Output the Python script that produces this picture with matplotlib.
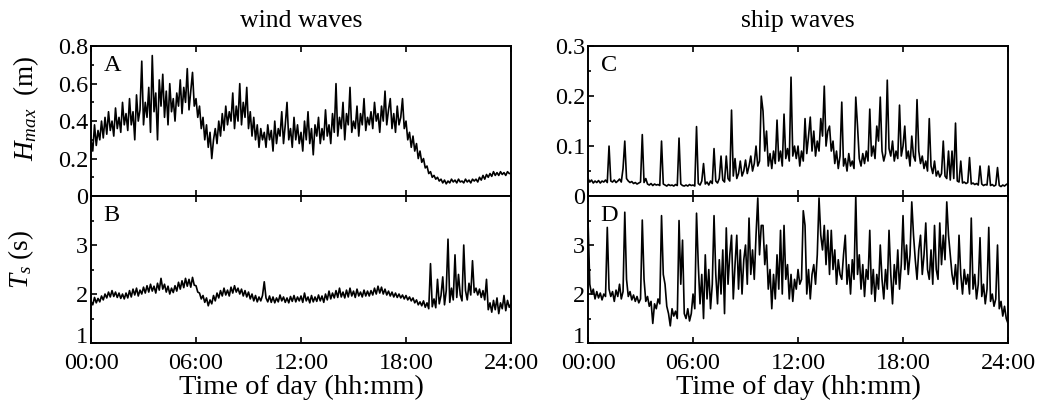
import numpy as np
import matplotlib
matplotlib.use("Agg")
import matplotlib.pyplot as plt
import matplotlib.transforms as mtransforms
from matplotlib.ticker import MultipleLocator, FixedLocator

plt.rcParams["font.family"] = ["Liberation Serif", "DejaVu Serif"]
plt.rcParams["mathtext.fontset"] = "custom"
plt.rcParams["mathtext.rm"] = "Liberation Serif"
plt.rcParams["mathtext.it"] = "Liberation Serif:italic"

# sampling step of the series (hours)
DT = 0.1

# wind waves, Hmax (m)
wind_hmax = [
    0.30, 0.24, 0.38, 0.27, 0.35, 0.30, 0.40, 0.31, 0.42, 0.33, 0.45, 0.35, 0.40, 0.32, 0.47, 0.36, 0.42, 0.34, 0.50, 0.38,
    0.44, 0.35, 0.52, 0.38, 0.45, 0.30, 0.54, 0.40, 0.46, 0.72, 0.38, 0.50, 0.42, 0.58, 0.34, 0.75, 0.45, 0.55, 0.30, 0.62,
    0.48, 0.65, 0.42, 0.56, 0.38, 0.60, 0.45, 0.52, 0.40, 0.55, 0.48, 0.62, 0.44, 0.58, 0.50, 0.68, 0.46, 0.56, 0.66, 0.48,
    0.52, 0.42, 0.48, 0.36, 0.42, 0.30, 0.38, 0.26, 0.34, 0.20, 0.30, 0.36, 0.28, 0.40, 0.32, 0.44, 0.35, 0.48, 0.38, 0.45,
    0.40, 0.55, 0.36, 0.48, 0.40, 0.60, 0.38, 0.50, 0.42, 0.58, 0.36, 0.45, 0.32, 0.42, 0.30, 0.38, 0.26, 0.36, 0.30, 0.34,
    0.26, 0.38, 0.30, 0.35, 0.24, 0.40, 0.28, 0.36, 0.32, 0.45, 0.28, 0.38, 0.50, 0.30, 0.36, 0.26, 0.42, 0.30, 0.38, 0.28,
    0.34, 0.24, 0.40, 0.30, 0.45, 0.28, 0.36, 0.22, 0.38, 0.32, 0.42, 0.28, 0.36, 0.30, 0.46, 0.32, 0.38, 0.28, 0.44, 0.34,
    0.60, 0.32, 0.42, 0.36, 0.50, 0.30, 0.44, 0.38, 0.58, 0.34, 0.40, 0.36, 0.48, 0.32, 0.44, 0.38, 0.52, 0.35, 0.42, 0.38,
    0.45, 0.36, 0.50, 0.40, 0.44, 0.34, 0.48, 0.40, 0.56, 0.38, 0.46, 0.52, 0.36, 0.44, 0.34, 0.48, 0.38, 0.42, 0.52, 0.36,
    0.40, 0.30, 0.34, 0.26, 0.32, 0.24, 0.28, 0.20, 0.24, 0.18, 0.20, 0.15, 0.16, 0.12, 0.13, 0.10, 0.11, 0.09, 0.10, 0.08,
    0.09, 0.07, 0.085, 0.065, 0.08, 0.07, 0.09, 0.075, 0.085, 0.07, 0.09, 0.075, 0.08, 0.07, 0.09, 0.075, 0.085, 0.07, 0.09, 0.08,
    0.09, 0.075, 0.10, 0.085, 0.11, 0.09, 0.115, 0.10, 0.12, 0.105, 0.13, 0.11, 0.125, 0.11, 0.13, 0.115, 0.125, 0.11, 0.13, 0.12,
    0.12,
]

# wind waves, Ts (s)
wind_ts = [
    1.85, 1.78, 1.93, 1.82, 1.91, 1.84, 1.96, 1.88, 2.00, 1.92, 2.04, 1.94, 2.07, 1.95, 2.04, 1.93, 2.02, 1.91, 2.00, 1.90,
    2.02, 1.92, 2.07, 1.94, 2.10, 1.98, 2.12, 1.96, 2.08, 2.00, 2.14, 2.02, 2.17, 2.04, 2.20, 2.06, 2.16, 2.02, 2.22, 2.08,
    2.32, 2.10, 2.20, 2.04, 2.16, 2.00, 2.12, 2.03, 2.17, 2.06, 2.24, 2.10, 2.27, 2.13, 2.32, 2.16, 2.30, 2.14, 2.34, 2.18,
    2.17, 2.04, 2.02, 1.90, 1.97, 1.83, 1.92, 1.76, 1.88, 1.80, 1.97, 1.86, 2.02, 1.92, 2.07, 1.96, 2.12, 1.98, 2.08, 1.96,
    2.14, 2.02, 2.17, 2.04, 2.12, 2.00, 2.10, 1.96, 2.07, 1.94, 2.04, 1.90, 2.00, 1.86, 1.97, 1.84, 1.94, 1.86, 1.97, 2.25,
    1.92, 1.84, 1.96, 1.83, 1.94, 1.82, 1.92, 1.84, 1.98, 1.86, 1.94, 1.83, 1.92, 1.82, 1.95, 1.85, 1.97, 1.84, 1.94, 1.86,
    1.96, 1.83, 2.02, 1.86, 1.94, 1.82, 1.97, 1.84, 1.94, 1.85, 1.98, 1.86, 1.96, 1.83, 2.00, 1.88, 2.06, 1.90, 2.02, 1.92,
    2.07, 1.93, 2.12, 1.94, 2.04, 1.92, 2.08, 1.94, 2.12, 1.96, 2.06, 1.93, 2.10, 1.96, 2.04, 1.94, 2.08, 1.96, 2.06, 1.96,
    2.07, 1.98, 2.12, 2.00, 2.16, 2.02, 2.14, 2.00, 2.10, 1.98, 2.06, 1.96, 2.04, 1.94, 2.02, 1.93, 2.00, 1.92, 1.98, 1.90,
    1.97, 1.88, 1.94, 1.86, 1.92, 1.82, 1.88, 1.78, 1.84, 1.76, 1.86, 1.73, 1.82, 1.70, 2.62, 1.74, 1.90, 1.72, 2.30, 1.80,
    1.97, 2.35, 1.78, 2.07, 3.12, 1.83, 2.12, 1.88, 2.80, 1.93, 2.40, 1.98, 1.86, 3.00, 2.07, 1.88, 2.22, 1.98, 2.68, 2.03,
    2.12, 1.98, 2.10, 1.93, 2.07, 1.88, 2.30, 1.68, 1.82, 1.63, 1.87, 1.68, 1.92, 1.60, 1.82, 1.70, 1.97, 1.66, 1.87, 1.73,
    1.80,
]

# ship waves, Hmax (m)
ship_hmax = [
    0.035, 0.028, 0.032, 0.026, 0.030, 0.027, 0.031, 0.026, 0.030, 0.028, 0.032, 0.027, 0.100, 0.030, 0.028, 0.032, 0.027, 0.030, 0.034, 0.028,
    0.055, 0.110, 0.035, 0.030, 0.027, 0.029, 0.025, 0.027, 0.024, 0.026, 0.028, 0.123, 0.027, 0.035, 0.024, 0.022, 0.025, 0.021, 0.024, 0.022,
    0.023, 0.021, 0.110, 0.024, 0.022, 0.020, 0.023, 0.021, 0.022, 0.020, 0.023, 0.021, 0.116, 0.024, 0.021, 0.020, 0.022, 0.020, 0.023, 0.021,
    0.022, 0.020, 0.139, 0.025, 0.022, 0.030, 0.065, 0.024, 0.028, 0.022, 0.030, 0.025, 0.095, 0.030, 0.026, 0.035, 0.080, 0.032, 0.028, 0.080,
    0.035, 0.030, 0.172, 0.040, 0.075, 0.035, 0.045, 0.070, 0.040, 0.050, 0.072, 0.045, 0.060, 0.080, 0.050, 0.065, 0.100, 0.060, 0.070, 0.200,
    0.170, 0.090, 0.130, 0.060, 0.085, 0.055, 0.090, 0.065, 0.152, 0.070, 0.090, 0.060, 0.164, 0.075, 0.095, 0.070, 0.238, 0.080, 0.100, 0.075,
    0.100, 0.060, 0.090, 0.070, 0.155, 0.085, 0.120, 0.158, 0.090, 0.130, 0.080, 0.110, 0.090, 0.155, 0.120, 0.220, 0.100, 0.130, 0.140, 0.090,
    0.110, 0.065, 0.090, 0.055, 0.080, 0.188, 0.060, 0.075, 0.050, 0.085, 0.060, 0.070, 0.055, 0.198, 0.140, 0.075, 0.060, 0.085, 0.065, 0.090,
    0.070, 0.174, 0.080, 0.100, 0.075, 0.140, 0.110, 0.198, 0.090, 0.070, 0.085, 0.232, 0.095, 0.080, 0.110, 0.070, 0.090, 0.075, 0.182, 0.080,
    0.100, 0.140, 0.075, 0.090, 0.060, 0.120, 0.080, 0.070, 0.193, 0.090, 0.065, 0.080, 0.055, 0.070, 0.050, 0.155, 0.060, 0.045, 0.070, 0.040,
    0.050, 0.038, 0.045, 0.110, 0.040, 0.035, 0.090, 0.032, 0.090, 0.035, 0.146, 0.030, 0.028, 0.070, 0.026, 0.028, 0.025, 0.027, 0.077, 0.024,
    0.026, 0.023, 0.025, 0.022, 0.060, 0.024, 0.021, 0.023, 0.022, 0.060, 0.021, 0.023, 0.020, 0.022, 0.057, 0.021, 0.019, 0.022, 0.020, 0.023,
    0.025,
]

# ship waves, Ts (s)
ship_ts = [
    3.48, 2.20, 2.00, 2.10, 1.90, 2.05, 1.92, 2.02, 1.88, 2.00, 1.95, 3.36, 2.10, 1.95, 2.05, 1.85, 2.08, 1.95, 2.20, 1.90,
    2.05, 3.67, 2.30, 1.95, 2.05, 1.88, 1.98, 1.85, 1.95, 1.82, 1.90, 3.51, 2.30, 1.85, 1.95, 1.75, 1.85, 1.40, 1.80, 1.70,
    1.90, 1.80, 3.60, 2.40, 2.20, 1.75, 1.60, 1.35, 1.70, 1.55, 1.65, 1.50, 3.50, 2.20, 3.10, 1.60, 1.50, 1.70, 1.45, 1.60,
    2.00, 1.70, 3.65, 2.60, 1.80, 2.40, 1.50, 2.80, 1.90, 2.50, 1.70, 2.20, 3.60, 2.40, 1.80, 2.70, 2.00, 2.90, 1.60, 3.35,
    2.20, 2.80, 3.20, 1.90, 2.60, 3.20, 2.10, 2.90, 2.00, 2.70, 3.00, 2.20, 3.55, 2.40, 2.90, 2.30, 3.20, 3.96, 2.80, 3.40,
    3.40, 2.60, 3.00, 2.10, 2.50, 1.70, 2.40, 1.90, 2.80, 2.10, 3.30, 2.00, 3.40, 2.30, 2.60, 1.90, 2.40, 1.85, 2.30, 2.10,
    2.50, 2.20, 2.30, 3.70, 3.40, 2.00, 2.50, 1.90, 2.40, 2.60, 2.20, 2.80, 3.96, 3.20, 2.90, 3.40, 2.60, 3.30, 2.40, 3.30,
    2.50, 2.90, 2.20, 2.70, 2.40, 2.30, 2.80, 3.20, 2.20, 2.60, 2.00, 2.70, 2.30, 4.00, 2.40, 2.80, 2.10, 2.60, 1.95, 2.50,
    2.30, 3.30, 2.00, 2.50, 1.85, 2.40, 2.10, 3.00, 2.30, 1.90, 2.50, 2.10, 3.30, 2.40, 1.80, 2.60, 2.20, 2.90, 2.10, 2.60,
    3.60, 2.50, 3.00, 2.40, 2.80, 3.88, 3.20, 2.70, 2.30, 2.90, 3.20, 2.40, 2.80, 3.45, 2.50, 2.30, 2.90, 2.20, 3.40, 2.50,
    2.30, 3.45, 2.60, 3.20, 2.70, 3.88, 3.20, 2.80, 2.40, 2.20, 2.60, 2.10, 3.20, 2.40, 2.00, 2.50, 2.20, 2.40, 2.00, 3.55,
    2.10, 2.40, 1.90, 2.20, 3.15, 1.95, 2.20, 1.80, 2.10, 3.36, 1.85, 2.00, 1.75, 1.90, 3.00, 1.70, 1.85, 1.55, 1.75, 1.50,
    1.40,
]

XTICKS = [0, 6, 12, 18, 24]
XTICKLABELS = ["00:00", "06:00", "12:00", "18:00", "24:00"]
FS = 17.5


def style_axis(ax, label):
    ax.set_xlim(0, 24)
    ax.set_xticks(XTICKS)
    ax.tick_params(which="both", direction="in", top=True, labelsize=FS, width=1.2)
    ax.tick_params(which="major", length=4)
    ax.tick_params(which="minor", length=2.5)
    ax.tick_params(axis="y", pad=2)
    for s in ax.spines.values():
        s.set_linewidth(1.4)
    ax.text(0.03, 0.94, label, transform=ax.transAxes, ha="left", va="top", fontsize=FS)


fig = plt.figure(figsize=(10.51, 4.05), dpi=100)
W = 0.3996
axA = fig.add_axes([0.0866, 0.516, W, 0.370])
axB = fig.add_axes([0.0866, 0.153, W, 0.363])
axC = fig.add_axes([0.5595, 0.516, W, 0.370])
axD = fig.add_axes([0.5595, 0.153, W, 0.363])

series = [(axA, wind_hmax, "A"), (axB, wind_ts, "B"), (axC, ship_hmax, "C"), (axD, ship_ts, "D")]
for ax, vals, lab in series:
    t = np.arange(len(vals)) * DT
    ax.plot(t, vals, color="black", lw=1.2)
    style_axis(ax, lab)

# lift the bottom "1" label a little so it clears the time labels
lift = mtransforms.ScaledTranslation(0, 6 / 72, fig.dpi_scale_trans)

for ax in (axA, axC):
    ax.set_xticklabels([])
for ax in (axB, axD):
    ax.set_xticklabels(XTICKLABELS)
    ax.tick_params(axis="x", pad=7)
    ax.set_xlabel("Time of day (hh:mm)", fontsize=20.5, labelpad=1)
    ax.set_ylim(1, 4)
    ax.yaxis.set_major_locator(FixedLocator([1, 2, 3]))
    ax.yaxis.set_minor_locator(FixedLocator([1.5, 2.5, 3.5]))
    ax.set_yticks([1, 2, 3])
    ax.set_yticklabels(["1", "2", "3"])
    first = ax.get_yticklabels()[0]
    first.set_transform(first.get_transform() + lift)

axA.set_ylim(0, 0.8)
axA.set_yticks([0, 0.2, 0.4, 0.6, 0.8])
axA.set_yticklabels(["0", "0.2", "0.4", "0.6", "0.8"])
axA.yaxis.set_minor_locator(MultipleLocator(0.1))

axC.set_ylim(0, 0.3)
axC.set_yticks([0, 0.1, 0.2, 0.3])
axC.set_yticklabels(["0", "0.1", "0.2", "0.3"])
axC.yaxis.set_minor_locator(MultipleLocator(0.05))

axA.set_ylabel(r"$H_{max}$  (m)", fontsize=FS + 2)
axA.yaxis.set_label_coords(-0.12, 0.585)
axB.set_ylabel(r"$T_s$ (s)", fontsize=FS + 2)
axB.yaxis.set_label_coords(-0.13, 0.57)

axA.set_title("wind waves", fontsize=FS + 1, pad=14)
axC.set_title("ship waves", fontsize=FS + 1, pad=14)

fig.savefig("out.png", dpi=100)
